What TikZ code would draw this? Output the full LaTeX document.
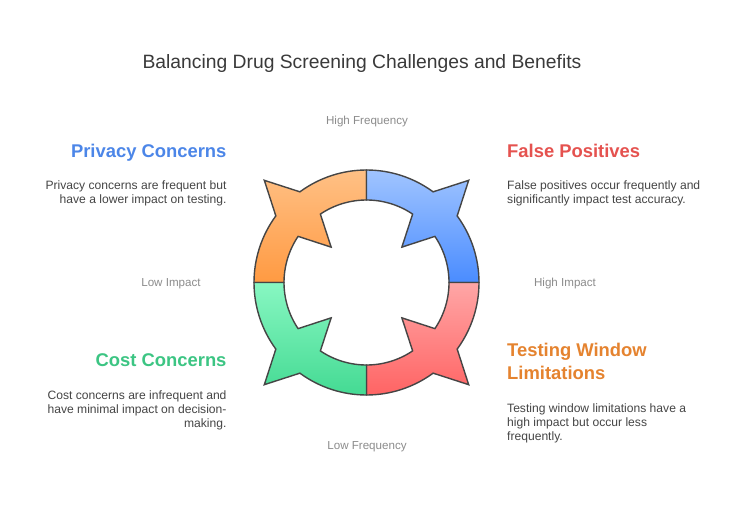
\documentclass[tikz,border=0pt]{standalone}
\usepackage{fontspec}
\setmainfont{Liberation Sans}
\definecolor{outl}{HTML}{454545}
\definecolor{titlec}{HTML}{3A3A3A}
\definecolor{bodyc}{HTML}{454545}
\definecolor{axisc}{HTML}{8C8C8C}
\definecolor{hblue}{HTML}{4C86E8}
\definecolor{hred}{HTML}{E5524F}
\definecolor{hgreen}{HTML}{3CC583}
\definecolor{horange}{HTML}{E5832F}
\definecolor{otop}{HTML}{FFC085}
\definecolor{obot}{HTML}{FF9A42}
\definecolor{btop}{HTML}{A0C4FF}
\definecolor{bbot}{HTML}{4A8CFF}
\definecolor{rtop}{HTML}{FFA6A6}
\definecolor{rbot}{HTML}{FF6464}
\definecolor{gtop}{HTML}{88F7C2}
\definecolor{gbot}{HTML}{44DA93}
\tikzset{
  seg/.style={draw=outl, line width=1.4pt},
  heading/.style={inner sep=0pt, font=\fontsize{18.4}{22.6}\selectfont\bfseries},
  body/.style={inner sep=0pt, text=bodyc, font=\fontsize{12.1}{14}\selectfont},
  axislbl/.style={inner sep=0pt, text=axisc, font=\fontsize{11.6}{13}\selectfont, anchor=base},
}
\newcommand{\quadseg}[1]{%
  (#1-45:112.5) arc[start angle=#1-45, end angle=#1-8.7, radius=112.5]
  -- (#1:144.5) -- (#1+8.7:112.5)
  arc[start angle=#1+8.7, end angle=#1+45, radius=112.5]
  -- (#1+45:82.5) arc[start angle=#1+45, end angle=#1+11, radius=82.5]
  -- (#1:50) -- (#1-11:82.5)
  arc[start angle=#1-11, end angle=#1-45, radius=82.5] -- cycle}
\begin{document}
\begin{tikzpicture}[x=1pt,y=-1pt]
\useasboundingbox[fill=white] (0,0) rectangle (735,518);
\node[inner sep=0pt, anchor=base, text=titlec, font=\fontsize{19.3}{22}\selectfont] (title) at (362,68.3) {Balancing Drug Screening Challenges and Benefits};

\begin{scope}[shift={(366.5,282.5)}]
  \path[seg, top color=otop, bottom color=obot] \quadseg{225};
  \path[seg, top color=btop, bottom color=bbot] \quadseg{315};
  \path[seg, top color=rtop, bottom color=rbot] \quadseg{45};
  \path[seg, top color=gtop, bottom color=gbot] \quadseg{135};
  \coordinate (ctr) at (0,0);
\end{scope}

\node[axislbl] (hf) at (367,125) {High Frequency};
\node[axislbl] (lf) at (367,449.3) {Low Frequency};
\node[axislbl] (li) at (171,286.3) {Low Impact};
\node[axislbl] (hi) at (565,286.3) {High Impact};

\node[heading, text=hblue, anchor=base east] (pch) at (226.7,157.3) {Privacy Concerns};
\node[body, anchor=base east, align=right] (pcb) at (226.7,204) {Privacy concerns are frequent but\\have a lower impact on testing.};

\node[heading, text=hred, anchor=base west] (fph) at (507,157.3) {False Positives};
\node[body, anchor=base west, align=left] (fpb) at (507,204) {False positives occur frequently and\\significantly impact test accuracy.};

\node[heading, text=hgreen, anchor=base east] (cch) at (226.7,366.7) {Cost Concerns};
\node[body, anchor=base east, align=right] (ccb) at (226.7,427.3) {Cost concerns are infrequent and\\have minimal impact on decision-\\making.};

\node[heading, text=horange, anchor=base west, align=left] (twh) at (507,379.3) {Testing Window\\Limitations};
\node[body, anchor=base west, align=left] (twb) at (507,440) {Testing window limitations have a\\high impact but occur less\\frequently.};
\end{tikzpicture}
\end{document}
